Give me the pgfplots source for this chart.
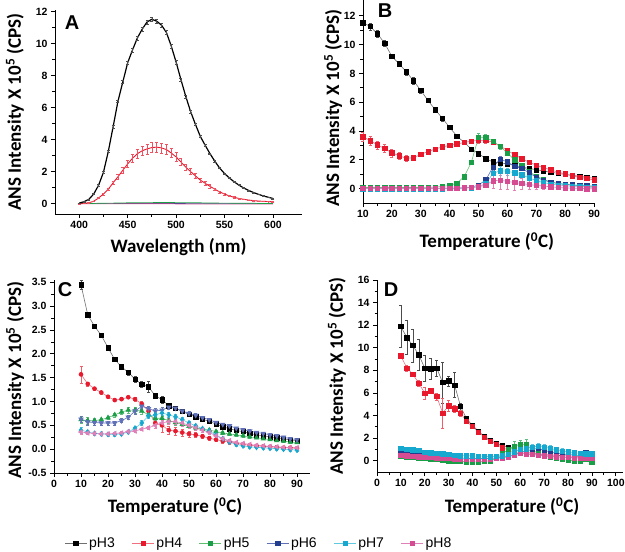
\documentclass[border=0pt]{standalone}
\usepackage{fontspec}
\setmainfont{Liberation Sans}
\newfontfamily\carlito{Carlito}
\usepackage{pgfplots}
\usepackage{pgfplotstable}
\pgfplotsset{compat=1.18}
\definecolor{c3}{HTML}{000000}
\definecolor{c4}{HTML}{E8192C}
\definecolor{c5}{HTML}{1B9E48}
\definecolor{c6}{HTML}{233D8F}
\definecolor{c7}{HTML}{17A8CF}
\definecolor{c8}{HTML}{D64C92}
\definecolor{l3}{HTML}{707070}
\definecolor{l4}{HTML}{F07080}
\definecolor{l5}{HTML}{60C070}
\definecolor{l6}{HTML}{6070B8}
\definecolor{l7}{HTML}{60C8E0}
\definecolor{l8}{HTML}{E080B8}

\pgfplotstableread{
wl b be r re g bl pk
400 0.03 0.02 0.00 0.01 0.00 0.00 -0.01
405 0.12 0.02 0.01 0.01 0.00 0.00 -0.01
410 0.27 0.03 0.05 0.01 0.01 0.00 -0.01
415 0.60 0.03 0.15 0.02 0.01 0.00 -0.01
420 1.15 0.04 0.35 0.03 0.02 0.00 -0.01
425 1.95 0.05 0.60 0.05 0.02 0.00 -0.01
430 3.25 0.06 0.90 0.08 0.03 0.00 -0.01
435 4.80 0.07 1.30 0.12 0.03 0.00 -0.01
440 6.40 0.08 1.68 0.15 0.04 0.01 -0.01
445 7.60 0.09 2.08 0.19 0.04 0.01 -0.01
450 8.80 0.10 2.48 0.22 0.05 0.01 -0.01
455 9.60 0.11 2.83 0.25 0.05 0.01 -0.01
460 10.35 0.12 3.12 0.28 0.05 0.01 -0.01
465 10.90 0.13 3.30 0.30 0.06 0.01 -0.01
470 11.35 0.14 3.42 0.31 0.06 0.01 -0.01
475 11.52 0.14 3.50 0.32 0.06 0.01 -0.01
480 11.40 0.14 3.53 0.32 0.07 0.01 -0.01
485 11.15 0.13 3.48 0.31 0.07 0.01 -0.01
490 10.70 0.13 3.38 0.30 0.07 0.01 -0.01
495 9.85 0.12 3.16 0.28 0.07 0.01 -0.01
500 8.85 0.11 2.92 0.26 0.06 0.01 -0.02
505 7.75 0.10 2.60 0.23 0.06 0.01 -0.02
510 6.70 0.09 2.28 0.21 0.06 0.00 -0.02
515 5.75 0.08 2.00 0.18 0.05 0.00 -0.02
520 4.95 0.07 1.73 0.16 0.05 0.00 -0.02
525 4.20 0.06 1.47 0.13 0.05 0.00 -0.02
530 3.65 0.06 1.27 0.11 0.04 0.00 -0.02
535 3.12 0.05 1.08 0.10 0.04 0.00 -0.02
540 2.65 0.05 0.90 0.08 0.04 0.00 -0.02
545 2.22 0.04 0.73 0.07 0.03 0.00 -0.02
550 1.88 0.04 0.60 0.05 0.03 0.00 -0.02
555 1.60 0.04 0.48 0.04 0.03 0.00 -0.02
560 1.36 0.03 0.39 0.04 0.02 0.00 -0.02
565 1.15 0.03 0.32 0.03 0.02 0.00 -0.02
570 0.97 0.03 0.27 0.02 0.02 0.00 -0.02
575 0.82 0.03 0.22 0.02 0.02 0.00 -0.02
580 0.69 0.02 0.19 0.02 0.02 0.00 -0.02
585 0.58 0.02 0.16 0.01 0.01 0.00 -0.02
590 0.48 0.02 0.14 0.01 0.01 0.00 -0.02
595 0.40 0.02 0.13 0.01 0.01 0.00 -0.02
600 0.32 0.02 0.12 0.01 0.01 0.00 -0.02
}\tabA

\pgfplotstableread{
T a3 e3 a4 e4 a5 e5 a6 e6 a7 e7 a8 e8
10 11.53 0.20 3.60 0.30 0.08 0.05 0.02 0.03 0.00 0.03 0.02 0.05
12.5 11.26 0.25 3.33 0.30 0.08 0.05 0.02 0.03 0.00 0.03 0.02 0.05
15 10.75 0.22 3.03 0.28 0.08 0.05 0.02 0.03 0.00 0.03 0.02 0.05
17.5 10.10 0.18 2.78 0.28 0.08 0.05 0.02 0.03 0.00 0.03 0.02 0.05
20 9.18 0.15 2.48 0.28 0.08 0.05 0.02 0.03 0.00 0.03 0.02 0.05
22.5 8.67 0.18 2.29 0.25 0.08 0.05 0.02 0.03 0.00 0.03 0.02 0.05
25 8.11 0.20 2.10 0.20 0.08 0.05 0.02 0.03 0.00 0.03 0.02 0.05
27.5 7.49 0.22 2.15 0.12 0.08 0.05 0.02 0.03 0.00 0.03 0.02 0.05
30 6.82 0.18 2.38 0.10 0.08 0.05 0.02 0.03 0.00 0.03 0.02 0.05
32.5 6.12 0.15 2.57 0.08 0.09 0.05 0.02 0.03 0.00 0.03 0.02 0.05
35 5.48 0.18 2.75 0.08 0.10 0.05 0.02 0.03 0.00 0.03 0.02 0.05
37.5 4.88 0.18 2.90 0.08 0.15 0.05 0.03 0.03 0.00 0.03 0.02 0.05
40 4.25 0.15 3.00 0.10 0.22 0.05 0.03 0.03 0.01 0.03 0.03 0.05
42.5 3.65 0.15 3.10 0.12 0.38 0.05 0.04 0.03 0.02 0.03 0.04 0.05
45 3.21 0.12 3.20 0.15 0.82 0.06 0.05 0.03 0.03 0.03 0.05 0.05
47.5 2.75 0.10 3.30 0.15 1.83 0.08 0.10 0.04 0.06 0.03 0.08 0.06
50 2.43 0.10 3.35 0.20 3.58 0.30 0.25 0.06 0.15 0.05 0.12 0.08
52.5 2.08 0.10 3.35 0.20 3.55 0.25 0.60 0.10 0.35 0.10 0.25 0.15
55 1.85 0.10 3.22 0.15 3.30 0.15 1.50 0.20 1.05 0.30 0.55 0.50
57.5 1.78 0.10 2.95 0.15 2.92 0.15 2.05 0.20 1.25 0.30 0.58 0.60
60 1.72 0.10 2.65 0.12 2.46 0.12 1.85 0.15 1.20 0.25 0.50 0.55
62.5 1.60 0.10 2.35 0.12 2.00 0.10 1.55 0.15 1.10 0.20 0.42 0.50
65 1.50 0.08 2.07 0.10 1.60 0.10 1.40 0.12 0.95 0.15 0.35 0.40
67.5 1.40 0.08 1.83 0.10 1.17 0.08 1.10 0.10 0.75 0.12 0.28 0.30
70 1.32 0.08 1.63 0.10 0.87 0.08 0.78 0.08 0.55 0.10 0.22 0.25
72.5 1.22 0.08 1.45 0.10 0.64 0.06 0.58 0.06 0.42 0.08 0.18 0.20
75 1.14 0.08 1.30 0.08 0.45 0.06 0.45 0.06 0.32 0.06 0.12 0.15
77.5 1.06 0.06 1.15 0.08 0.35 0.05 0.36 0.05 0.25 0.05 0.08 0.12
80 0.98 0.06 1.02 0.08 0.28 0.05 0.30 0.05 0.20 0.05 0.05 0.10
82.5 0.92 0.06 0.88 0.08 0.22 0.05 0.26 0.05 0.15 0.05 0.03 0.10
85 0.86 0.06 0.78 0.08 0.18 0.05 0.22 0.05 0.12 0.05 0.02 0.10
87.5 0.78 0.06 0.70 0.08 0.15 0.05 0.20 0.05 0.10 0.05 0.00 0.10
90 0.72 0.06 0.60 0.08 0.12 0.05 0.18 0.05 0.08 0.05 -0.02 0.10
}\tabB

\pgfplotstableread{
T a3 e3 a4 e4 a5 e5 a6 e6 a7 e7 a8 e8
10 3.45 0.10 1.57 0.18 0.62 0.08 0.63 0.06 0.40 0.06 0.36 0.04
12.5 2.82 0.05 1.37 0.04 0.60 0.07 0.57 0.06 0.36 0.04 0.34 0.03
15 2.58 0.03 1.27 0.03 0.60 0.05 0.56 0.06 0.33 0.03 0.33 0.03
17.5 2.39 0.05 1.19 0.03 0.62 0.04 0.55 0.05 0.32 0.03 0.32 0.03
20 2.13 0.04 1.10 0.03 0.66 0.04 0.55 0.04 0.31 0.03 0.32 0.03
22.5 1.88 0.03 1.03 0.03 0.72 0.04 0.55 0.04 0.31 0.03 0.33 0.03
25 1.73 0.03 1.05 0.03 0.78 0.05 0.60 0.04 0.32 0.03 0.34 0.03
27.5 1.61 0.05 1.09 0.03 0.82 0.06 0.67 0.05 0.36 0.03 0.37 0.03
30 1.47 0.06 1.05 0.04 0.82 0.06 0.80 0.06 0.44 0.04 0.38 0.03
32.5 1.36 0.06 0.95 0.05 0.80 0.06 0.90 0.06 0.55 0.05 0.42 0.03
35 1.31 0.12 0.80 0.06 0.72 0.05 0.85 0.06 0.70 0.05 0.45 0.04
37.5 1.12 0.04 0.55 0.10 0.65 0.05 0.80 0.05 0.72 0.05 0.50 0.05
40 1.04 0.07 0.50 0.15 0.65 0.05 0.82 0.05 0.76 0.05 0.55 0.06
42.5 0.91 0.05 0.40 0.08 0.60 0.05 0.88 0.05 0.72 0.05 0.58 0.06
45 0.86 0.04 0.38 0.08 0.56 0.05 0.86 0.05 0.68 0.05 0.58 0.06
47.5 0.79 0.03 0.35 0.07 0.52 0.04 0.80 0.04 0.62 0.05 0.55 0.06
50 0.73 0.03 0.32 0.06 0.48 0.04 0.75 0.04 0.55 0.04 0.50 0.05
52.5 0.68 0.03 0.30 0.05 0.45 0.04 0.71 0.04 0.49 0.04 0.45 0.05
55 0.63 0.03 0.27 0.05 0.42 0.03 0.66 0.04 0.43 0.04 0.40 0.04
57.5 0.58 0.03 0.23 0.05 0.40 0.03 0.62 0.03 0.38 0.04 0.35 0.04
60 0.53 0.03 0.20 0.04 0.37 0.03 0.56 0.03 0.30 0.04 0.28 0.04
62.5 0.47 0.03 0.17 0.04 0.34 0.03 0.52 0.03 0.22 0.03 0.22 0.04
65 0.43 0.03 0.15 0.04 0.32 0.03 0.49 0.03 0.15 0.03 0.18 0.03
67.5 0.39 0.02 0.12 0.03 0.30 0.03 0.44 0.03 0.10 0.03 0.14 0.03
70 0.37 0.02 0.10 0.03 0.28 0.03 0.41 0.03 0.07 0.03 0.12 0.03
72.5 0.33 0.02 0.08 0.03 0.26 0.03 0.38 0.03 0.05 0.03 0.10 0.03
75 0.30 0.02 0.07 0.03 0.24 0.02 0.35 0.03 0.04 0.03 0.08 0.03
77.5 0.28 0.02 0.06 0.03 0.22 0.02 0.33 0.03 0.03 0.03 0.07 0.03
80 0.26 0.02 0.05 0.02 0.20 0.02 0.30 0.03 0.02 0.03 0.06 0.03
82.5 0.24 0.02 0.04 0.02 0.18 0.02 0.28 0.03 0.01 0.03 0.05 0.03
85 0.22 0.02 0.03 0.02 0.17 0.02 0.25 0.03 0.00 0.03 0.04 0.03
87.5 0.19 0.02 0.03 0.02 0.15 0.02 0.22 0.03 -0.01 0.03 0.03 0.03
90 0.18 0.02 0.02 0.02 0.14 0.02 0.20 0.03 -0.02 0.03 0.03 0.03
}\tabC

\pgfplotstableread{
T a3 e3 a4 e4 a5 e5 a6 e6 a7 e7 a8 e8
10 11.88 1.85 9.28 0.15 0.40 0.10 0.80 0.15 1.10 0.20 0.50 0.10
12.5 10.90 1.50 8.20 0.25 0.35 0.10 0.70 0.15 1.00 0.20 0.45 0.10
15 10.20 1.45 7.66 0.20 0.30 0.10 0.65 0.15 0.95 0.20 0.40 0.10
17.5 9.37 1.35 6.86 0.30 0.25 0.10 0.60 0.12 0.90 0.20 0.35 0.10
20 8.20 1.15 5.98 0.50 0.20 0.10 0.50 0.12 0.75 0.15 0.30 0.10
22.5 8.14 0.90 6.19 0.15 0.15 0.10 0.45 0.12 0.70 0.15 0.28 0.10
25 8.20 0.70 5.69 0.30 0.10 0.10 0.40 0.10 0.65 0.15 0.25 0.10
27.5 6.92 1.80 4.22 1.30 0.05 0.10 0.35 0.10 0.60 0.15 0.22 0.10
30 7.07 0.45 4.86 0.50 0.00 0.10 0.30 0.10 0.55 0.15 0.20 0.10
32.5 6.70 1.10 4.60 0.35 -0.05 0.10 0.25 0.10 0.50 0.15 0.18 0.10
35 4.80 0.30 4.22 0.25 -0.05 0.10 0.25 0.10 0.45 0.15 0.15 0.10
37.5 3.71 0.15 3.47 0.15 -0.10 0.10 0.20 0.10 0.45 0.15 0.15 0.10
40 3.12 0.12 3.03 0.12 -0.10 0.10 0.20 0.10 0.42 0.15 0.15 0.10
42.5 2.60 0.10 2.53 0.10 -0.10 0.10 0.20 0.10 0.40 0.15 0.15 0.10
45 2.15 0.10 2.09 0.10 -0.05 0.10 0.20 0.10 0.40 0.15 0.15 0.10
47.5 1.80 0.08 1.71 0.08 0.00 0.10 0.20 0.10 0.35 0.15 0.18 0.10
50 1.50 0.08 1.47 0.08 0.20 0.15 0.25 0.10 0.40 0.15 0.20 0.10
52.5 1.35 0.08 1.15 0.08 0.60 0.30 0.30 0.10 0.45 0.15 0.25 0.10
55 1.15 0.08 0.95 0.08 1.00 0.30 0.40 0.10 0.55 0.15 0.35 0.10
57.5 0.95 0.08 0.75 0.08 1.30 0.40 0.55 0.10 0.80 0.20 0.50 0.10
60 0.85 0.08 0.65 0.08 1.45 0.40 0.70 0.10 1.00 0.20 0.65 0.10
62.5 0.75 0.08 0.60 0.08 1.40 0.50 0.85 0.10 1.05 0.20 0.60 0.10
65 0.65 0.08 0.55 0.08 1.00 0.30 1.00 0.15 1.20 0.25 0.55 0.10
67.5 0.60 0.08 0.50 0.08 0.60 0.20 1.10 0.15 1.30 0.25 0.50 0.10
70 0.55 0.08 0.45 0.08 0.40 0.15 0.90 0.15 1.20 0.25 0.45 0.10
72.5 0.50 0.08 0.40 0.08 0.30 0.15 0.80 0.15 1.10 0.25 0.40 0.10
75 0.48 0.08 0.35 0.08 0.20 0.15 0.70 0.15 0.95 0.25 0.35 0.10
77.5 0.45 0.08 0.32 0.08 0.10 0.15 0.60 0.15 0.85 0.25 0.30 0.10
80 0.42 0.08 0.30 0.08 0.05 0.15 0.55 0.15 0.80 0.25 0.28 0.10
82.5 0.40 0.08 0.28 0.08 0.00 0.15 0.50 0.15 0.70 0.20 0.25 0.10
85 0.38 0.08 0.25 0.08 -0.05 0.15 0.45 0.15 0.65 0.20 0.22 0.10
87.5 0.50 0.08 0.30 0.08 0.10 0.15 0.70 0.15 0.60 0.20 0.20 0.10
90 0.45 0.08 0.25 0.08 -0.10 0.15 0.40 0.15 0.60 0.20 0.20 0.10
}\tabD

\tikzset{letter/.style={font=\bfseries\fontsize{20}{20}\selectfont}}
\newcommand{\legtxt}[1]{\fontsize{14}{16}\selectfont #1}
\pgfplotsset{
  base/.style={scale only axis, axis lines*=left, tick align=outside,
    axis line style={line width=0.9pt},
    every tick/.style={black, line width=0.8pt},
    major tick length=4pt, minor tick length=2.5pt, minor tick num=1,
    tick label style={font=\bfseries\fontsize{10.5}{12}\selectfont},
    /pgf/number format/assume math mode=true,
    label style={font=\carlito\bfseries\fontsize{19}{20}\selectfont},
    ylabel={ANS Intensity X 10\textsuperscript{5} (CPS)},
    clip=false},
  eb/.style={error bars/y dir=both, error bars/y explicit,
    error bars/error bar style={line width=0.45pt, color=#1},
    error bars/error mark options={rotate=90, mark size=1.5pt, line width=0.45pt, color=#1}},
  s3/.style={color=l3, line width=0.6pt, mark=square*, mark size=2.2pt, mark options={draw=c3, fill=c3}, eb=c3!70},
  s4/.style={color=l4, line width=0.6pt, mark=square*, mark size=2.2pt, mark options={draw=c4, fill=c4}, eb=c4!70},
  s5/.style={color=l5, line width=0.6pt, mark=square*, mark size=2.2pt, mark options={draw=c5, fill=c5}, eb=c5!70},
  s6/.style={color=l6, line width=0.6pt, mark=square*, mark size=2.2pt, mark options={draw=c6, fill=c6}, eb=c6!70},
  s7/.style={color=l7, line width=0.6pt, mark=square*, mark size=2.2pt, mark options={draw=c7, fill=c7}, eb=c7!70},
  s8/.style={color=l8, line width=0.6pt, mark=square*, mark size=2.2pt, mark options={draw=c8, fill=c8}, eb=c8!70},
}

\begin{document}
\begin{tikzpicture}
\useasboundingbox (0pt,0pt) rectangle (625pt,-552pt);

% Panel A
\begin{axis}[base, at={(55pt,-214pt)}, anchor=south west, width=247pt, height=204pt,
  xmin=375, xmax=630, ymin=-0.65, ymax=12.1,
  xtick={400,450,...,600}, ytick={0,2,...,12},
  xlabel={Wavelength (nm)},
  xlabel style={at={(axis description cs:0.5,-0.16)}, anchor=center},
  ylabel style={at={(axis description cs:-0.162,0.5)}, anchor=center}]
\addplot[c6, line width=0.7pt, no markers] table[x=wl,y=bl]{\tabA};
\addplot[c8, line width=0.7pt, no markers] table[x=wl,y=pk]{\tabA};
\addplot[c5, line width=0.7pt, no markers] table[x=wl,y=g]{\tabA};
\addplot[c4, line width=0.9pt, no markers, eb=c4!75] table[x=wl,y=r,y error=re]{\tabA};
\addplot[black, line width=1.2pt, no markers, eb=black!70] table[x=wl,y=b,y error=be]{\tabA};
\node[letter] at (axis description cs:0.069,0.94) {A};
\end{axis}

% Panel B
\begin{axis}[base, at={(363pt,-203pt)}, anchor=south west, width=232pt, height=203pt,
  xmin=10, xmax=90.3, ymin=-1, ymax=13.1,
  xtick={10,20,...,90}, ytick={0,2,...,12},
  xlabel={Temperature (\textsuperscript{0}C)},
  xlabel style={at={(axis description cs:0.534,-0.19)}, anchor=center},
  ylabel style={at={(axis description cs:-0.129,0.468)}, anchor=center},
  legend columns=6,
  legend style={at={(-1.30,-1.675)}, anchor=west, draw=none, fill=none,
    /tikz/every even column/.append style={column sep=15pt}},
  legend image code/.code={\draw[mark repeat=2,mark phase=2,#1] plot coordinates {(0pt,0pt) (11pt,0pt) (22pt,0pt)};}]
\addplot[s3] table[x=T,y=a3,y error=e3]{\tabB}; \addlegendentry{\legtxt{pH3}}
\addplot[s4] table[x=T,y=a4,y error=e4]{\tabB}; \addlegendentry{\legtxt{pH4}}
\addplot[s5] table[x=T,y=a5,y error=e5]{\tabB}; \addlegendentry{\legtxt{pH5}}
\addplot[s6] table[x=T,y=a6,y error=e6]{\tabB}; \addlegendentry{\legtxt{pH6}}
\addplot[s7] table[x=T,y=a7,y error=e7]{\tabB}; \addlegendentry{\legtxt{pH7}}
\addplot[s8] table[x=T,y=a8,y error=e8]{\tabB}; \addlegendentry{\legtxt{pH8}}
\node[letter] at (axis description cs:0.095,0.95) {B};
\end{axis}

% Panel C
\begin{axis}[base, at={(54pt,-473pt)}, anchor=south west, width=256pt, height=193pt,
  xmin=0, xmax=94.8, ymin=-0.5, ymax=3.55,
  xtick={0,10,...,90}, ytick={-0.5,0,...,3.5},
  yticklabel style={/pgf/number format/.cd, fixed, fixed zerofill, precision=1},
  xlabel={Temperature (\textsuperscript{0}C)},
  xlabel style={at={(axis description cs:0.473,-0.176)}, anchor=center},
  ylabel style={at={(axis description cs:-0.152,0.48)}, anchor=center}]
\addplot[s3] table[x=T,y=a3,y error=e3]{\tabC};
\addplot[s4, mark=*, mark size=2pt] table[x=T,y=a4,y error=e4]{\tabC};
\addplot[s5, mark=triangle*, mark size=2.6pt] table[x=T,y=a5,y error=e5]{\tabC};
\addplot[s6, mark=triangle*, mark size=2.6pt, mark options={rotate=180}] table[x=T,y=a6,y error=e6]{\tabC};
\addplot[s7, mark=diamond*, mark size=2.6pt] table[x=T,y=a7,y error=e7]{\tabC};
\addplot[s8, mark=triangle*, mark size=2.6pt, mark options={rotate=90}] table[x=T,y=a8,y error=e8]{\tabC};
\node[letter] at (axis description cs:0.043,0.948) {C};
\end{axis}

% Panel D
\begin{axis}[base, at={(377pt,-472pt)}, anchor=south west, width=246pt, height=192pt,
  xmin=0, xmax=103, ymin=-1, ymax=16,
  xtick={0,10,...,100}, ytick={0,2,...,16},
  xlabel={Temperature (\textsuperscript{0}C)},
  xlabel style={at={(axis description cs:0.549,-0.182)}, anchor=center},
  ylabel style={at={(axis description cs:-0.163,0.5)}, anchor=center}]
\addplot[s3] table[x=T,y=a3,y error=e3]{\tabD};
\addplot[s4] table[x=T,y=a4,y error=e4]{\tabD};
\addplot[s5] table[x=T,y=a5,y error=e5]{\tabD};
\addplot[s6] table[x=T,y=a6,y error=e6]{\tabD};
\addplot[s8] table[x=T,y=a8,y error=e8]{\tabD};
\addplot[s7] table[x=T,y=a7,y error=e7]{\tabD};
\node[letter] at (axis description cs:0.057,0.948) {D};
\end{axis}
\end{tikzpicture}
\end{document}
